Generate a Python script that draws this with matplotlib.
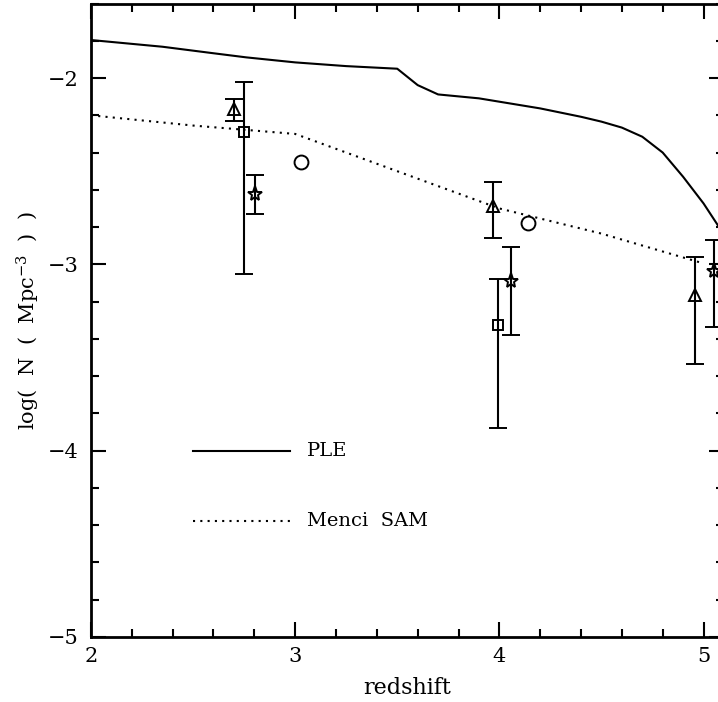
import numpy as np
import matplotlib
matplotlib.use("Agg")
import matplotlib.pyplot as plt
from matplotlib.ticker import MultipleLocator

# model curves
ple_z = [2.0, 2.35, 2.6, 2.76, 3.0, 3.25, 3.5, 3.6, 3.7, 3.9, 4.0, 4.2, 4.4, 4.5, 4.6, 4.7, 4.8, 4.9, 5.0, 5.07, 5.12]
ple_logn = [-1.796, -1.832, -1.867, -1.889, -1.916, -1.936, -1.95, -2.038, -2.088, -2.109, -2.127, -2.163, -2.208,
            -2.234, -2.266, -2.315, -2.40, -2.53, -2.673, -2.79, -2.88]

menci_z = [2.0, 2.5, 3.0, 3.5, 4.0, 4.5, 5.0]
menci_logn = [-2.20, -2.255, -2.30, -2.50, -2.70, -2.835, -2.995]

# data points: (z, logN, upper, lower)
tri_z = [2.70, 3.967, 4.96]
tri_y = [-2.167, -2.687, -3.165]
tri_hi = [-2.113, -2.56, -2.962]
tri_lo = [-2.229, -2.86, -3.535]

sq_z = [2.75, 3.995]
sq_y = [-2.29, -3.327]
sq_hi = [-2.02, -3.08]
sq_lo = [-3.05, -3.879]

star_z = [2.805, 4.059, 5.05]
star_y = [-2.623, -3.09, -3.034]
star_hi = [-2.522, -2.907, -2.871]
star_lo = [-2.73, -3.381, -3.335]

circ_z = [3.03, 4.142]
circ_y = [-2.449, -2.778]

plt.rcParams["font.family"] = ["DejaVu Serif"]
plt.rcParams["mathtext.fontset"] = "dejavuserif"

fig = plt.figure(figsize=(7.18, 7.02), dpi=100)
ax = fig.add_axes([0.1267, 0.0926, 0.8816, 0.9024])

ax.plot(ple_z, ple_logn, color="black", lw=1.5)
ax.plot(menci_z, menci_logn, color="black", lw=1.5, linestyle=(0, (1, 2.5)))


def add_points(z, y, hi, lo, marker, ms):
    y = np.asarray(y)
    yerr = None
    if hi is not None:
        yerr = [y - np.asarray(lo), np.asarray(hi) - y]
    ax.errorbar(z, y, yerr=yerr, fmt=marker, ms=ms, mfc="none", mec="black", mew=1.4,
                ecolor="black", elinewidth=1.5, capsize=6.5, capthick=1.5, color="black")


add_points(tri_z, tri_y, tri_hi, tri_lo, "^", 9)
add_points(sq_z, sq_y, sq_hi, sq_lo, "s", 7.5)
add_points(star_z, star_y, star_hi, star_lo, "*", 11)
add_points(circ_z, circ_y, None, None, "o", 10)

# in-plot legend
ax.plot([2.5, 2.975], [-4.0, -4.0], color="black", lw=1.5)
ax.text(3.06, -4.0, "PLE", fontsize=14, va="center", ha="left")
ax.plot([2.5, 2.975], [-4.38, -4.38], color="black", lw=1.5, linestyle=(0, (1, 2.5)))
ax.text(3.06, -4.38, "Menci  SAM", fontsize=14, va="center", ha="left")

ax.set_xlim(2, 5.1)
ax.set_ylim(-5, -1.6)
ax.xaxis.set_major_locator(MultipleLocator(1))
ax.xaxis.set_minor_locator(MultipleLocator(0.2))
ax.yaxis.set_major_locator(MultipleLocator(1))
ax.yaxis.set_minor_locator(MultipleLocator(0.2))
ax.tick_params(which="both", direction="in", top=True, right=True, width=1.5, labelsize=15)
ax.tick_params(which="major", length=11)
ax.tick_params(which="minor", length=5.5)
ax.tick_params(axis="x", pad=7)
ax.tick_params(axis="y", pad=9)
for sp in ax.spines.values():
    sp.set_linewidth(2)

ax.set_xlabel("redshift", fontsize=16, labelpad=8)
ax.set_ylabel(r"log(  N  (  Mpc$^{-3}$  )  )", fontsize=15, labelpad=4)

fig.savefig("out.png", dpi=100)
